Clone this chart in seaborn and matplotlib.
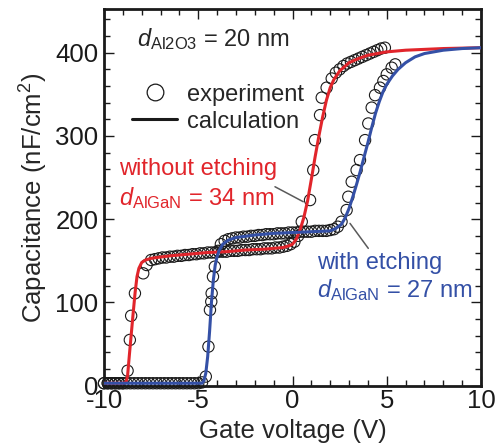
import numpy as np
import pandas as pd
import matplotlib
matplotlib.use("Agg")
import matplotlib.pyplot as plt
from matplotlib.lines import Line2D
from matplotlib.ticker import MultipleLocator
import seaborn as sns

# experiment, without etching (d_AlGaN = 34 nm)
red_exp_v = [-10.0, -9.8, -9.6, -9.4, -9.2, -9.0, -8.75, -8.63, -8.56, -8.36, -7.92, -7.74,
             -7.5, -7.3, -7.1, -6.9, -6.7, -6.5, -6.3, -6.1, -5.9, -5.7, -5.5, -5.3, -5.1,
             -4.9, -4.7, -4.5, -4.3, -4.1, -3.9, -3.7, -3.5, -3.3, -3.1, -2.9, -2.7, -2.5,
             -2.3, -2.1, -1.9, -1.7, -1.5, -1.3, -1.1, -0.9, -0.7, -0.5, -0.3, -0.1, 0.1, 0.3,
             0.49, 0.93, 1.1, 1.19, 1.46, 1.55, 1.81, 2.08, 2.3, 2.5, 2.7, 2.9, 3.1, 3.3, 3.5,
             3.7, 3.9, 4.1, 4.3, 4.5, 4.7, 4.9]
red_exp_c = [3, 3, 3, 3, 3, 3, 18, 55, 84, 111, 135, 145,
             151, 152, 153, 154, 154, 155, 155, 156, 156, 157, 157, 158, 158,
             159, 159, 160, 160, 160, 161, 161, 161, 162, 162, 162, 163, 163,
             163, 164, 164, 164, 165, 165, 165, 166, 166, 167, 168, 170, 173, 180,
             197, 223, 259, 295, 325, 346, 358, 369, 376, 380, 384, 387, 389, 391, 393,
             395, 397, 399, 401, 403, 405, 406]

# experiment, with etching (d_AlGaN = 27 nm)
blue_exp_v = [-10.0, -9.8, -9.6, -9.4, -9.2, -9.0, -8.8, -8.6, -8.4, -8.2, -8.0, -7.8, -7.6,
              -7.4, -7.2, -7.0, -6.8, -6.6, -6.4, -6.2, -6.0, -5.8, -5.6, -5.4, -5.2, -5.0,
              -4.8, -4.6, -4.46, -4.38, -4.31, -4.29, -4.22, -4.12, -3.95,
              -3.8, -3.6, -3.4, -3.2, -3.0, -2.8, -2.6, -2.4, -2.2, -2.0, -1.8, -1.6, -1.4,
              -1.2, -1.0, -0.8, -0.6, -0.4, -0.2, 0.0, 0.2, 0.4, 0.6, 0.8, 1.0, 1.2, 1.4,
              1.6, 1.8, 2.0, 2.2, 2.4,
              2.6, 2.87, 2.96, 3.14, 3.4, 3.58, 3.85, 4.02, 4.2, 4.38, 4.64, 4.82, 5.0,
              5.26, 5.45]
blue_exp_c = [3, 3, 3, 3, 3, 3, 3, 3, 3, 3, 3, 3, 3,
              3, 3, 3, 3, 3, 3, 3, 3, 3, 3, 3, 3, 3,
              4, 11, 47, 91, 101, 111, 131, 143, 162,
              170, 174, 176, 177, 178, 178, 179, 179, 180, 180, 181, 181, 182,
              182, 182, 183, 183, 183, 184, 184, 184, 185, 185, 185, 185, 186, 186,
              186, 186, 187, 188, 191,
              197, 211, 227, 245, 259, 271, 295, 315, 334, 349, 358, 366, 374,
              382, 386]

# calculation curves
red_calc_v = [-10.0, -9.0, -8.85, -8.8, -8.75, -8.65, -8.55, -8.45, -8.35, -8.25, -8.15, -8.0,
              -7.8, -7.5, -7.2, -6.5, -5.5, -4.5, -3.5, -2.5, -1.5, -0.5, -0.2, 0.0, 0.2,
              0.4, 0.6, 0.8, 1.0, 1.2, 1.4, 1.6, 1.8, 2.0, 2.2, 2.5, 3.0, 3.5, 4.0, 5.0,
              6.0, 8.0, 10.0]
red_calc_c = [3, 3, 4, 7, 12, 38, 63, 88, 112, 131, 141, 148,
              151, 153, 154, 156, 158, 160, 161, 163, 164, 166, 168, 170, 176,
              187, 202, 222, 248, 275, 300, 323, 343, 358, 368, 378, 388, 393, 397, 401,
              403, 405, 406]

blue_calc_v = [-10.0, -4.8, -4.7, -4.6, -4.5, -4.4, -4.3, -4.2, -4.1, -4.0, -3.9, -3.7, -3.4,
               -3.0, -2.0, -1.0, 0.0, 1.0, 2.0, 2.3, 2.6, 2.8, 3.0, 3.2, 3.4, 3.6, 3.8, 4.0,
               4.2, 4.4, 4.6, 4.8, 5.0, 5.3, 5.6, 6.0, 6.5, 7.0, 8.0, 9.0, 10.0]
blue_calc_c = [3, 3, 6, 15, 35, 65, 100, 127, 145, 155, 162, 170, 175,
               178, 181, 183, 184, 185, 186, 189, 194, 202, 213, 227, 242, 258, 275, 292,
               310, 327, 341, 353, 362, 372, 380, 388, 395, 399, 403, 405, 406]

RED = "#e1252b"
BLUE = "#3450a6"
FONT = ["Liberation Sans", "DejaVu Sans"]

sns.set_style("ticks")
plt.rcParams["font.family"] = FONT
plt.rcParams["axes.unicode_minus"] = False
plt.rcParams["mathtext.fontset"] = "custom"
plt.rcParams["mathtext.rm"] = "Liberation Sans"
plt.rcParams["mathtext.it"] = "Liberation Sans:italic"

fig = plt.figure(figsize=(5.01, 4.48), dpi=100)
ax = fig.add_axes([0.2076, 0.139, 0.7525, 0.840])

# experiment circles
for v, c in [(red_exp_v, red_exp_c), (blue_exp_v, blue_exp_c)]:
    sns.scatterplot(x=v, y=c, ax=ax, marker="o", s=66, facecolor="none",
                    edgecolor="#1a1a1a", linewidth=0.8, zorder=2, clip_on=False)

# calculation lines
sns.lineplot(x=red_calc_v, y=red_calc_c, ax=ax, sort=False, color=RED, lw=2.2, zorder=3)
sns.lineplot(x=blue_calc_v, y=blue_calc_c, ax=ax, sort=False, color=BLUE, lw=2.2, zorder=3)

ax.set_xlim(-10, 10)
ax.set_ylim(0, 452)
ax.xaxis.set_major_locator(MultipleLocator(5))
ax.xaxis.set_minor_locator(MultipleLocator(1))
ax.yaxis.set_major_locator(MultipleLocator(100))
ax.yaxis.set_minor_locator(MultipleLocator(20))
ax.tick_params(which="both", direction="in", top=True, right=True, width=1.0,
               labelsize=18.5, colors="#1a1a1a")
ax.tick_params(which="major", length=7.5)
ax.tick_params(which="minor", length=4.5)
ax.tick_params(axis="x", pad=2)
ax.tick_params(axis="y", pad=4)
for sp in ax.spines.values():
    sp.set_linewidth(2.0)
    sp.set_color("#1a1a1a")

ax.set_xlabel("Gate voltage (V)", fontsize=18.5, labelpad=5)
ax.set_ylabel("Capacitance (nF/cm$^2$)", fontsize=18.5, labelpad=4)

# annotations
ax.text(-8.25, 408, r"$\mathit{d}_{\mathrm{Al2O3}}$ = 20 nm", fontsize=17, va="baseline")
ax.text(-9.2, 253, "without etching", fontsize=17, color=RED, va="baseline")
ax.text(-9.2, 217, r"$\mathit{d}_{\mathrm{AlGaN}}$ = 34 nm", fontsize=17, color=RED, va="baseline")
ax.text(1.3, 140, "with etching", fontsize=17, color=BLUE, va="baseline")
ax.text(1.3, 107, r"$\mathit{d}_{\mathrm{AlGaN}}$ = 27 nm", fontsize=17, color=BLUE, va="baseline")
ax.annotate("", xy=(0.57, 221), xytext=(-0.93, 239),
            arrowprops=dict(arrowstyle="-", color="#5a5a5a", lw=1.1, shrinkA=0, shrinkB=0))
ax.annotate("", xy=(3.05, 195), xytext=(4.02, 165),
            arrowprops=dict(arrowstyle="-", color="#5a5a5a", lw=1.1, shrinkA=0, shrinkB=0))

handles = [Line2D([], [], marker="o", ls="none", mfc="none", mec="#1a1a1a", mew=0.9, ms=12),
           Line2D([], [], color="#1a1a1a", lw=2.2)]
ax.legend(handles, ["experiment", "calculation"], loc="upper left",
          bbox_to_anchor=(0.0735, 0.803), frameon=False, fontsize=17,
          handlelength=1.93, handletextpad=0.4, labelspacing=0.22,
          borderpad=0, borderaxespad=0)

fig.savefig("out.png", dpi=100)
